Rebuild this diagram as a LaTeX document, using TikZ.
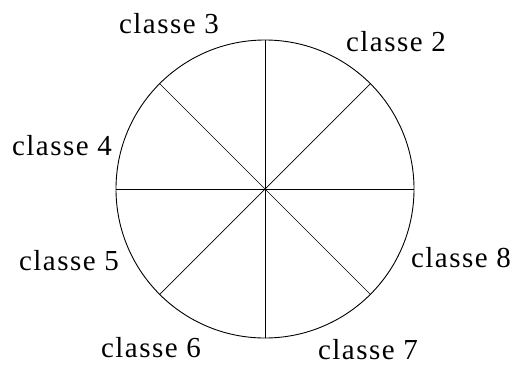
\documentclass[tikz,border=0pt]{standalone}
\usepackage{fontspec}
\setmainfont{Liberation Serif}[LetterSpace=5]
\begin{document}
\begin{tikzpicture}[x=1pt,y=-1pt,
  lbl/.style={inner sep=0pt,font=\fontsize{29}{29}\selectfont},
  rim/.style={line width=0.9pt},
  spoke/.style={line width=0.7pt}]
\useasboundingbox (0,0) rectangle (516,365);
\coordinate (c) at (265,189);
\node[circle,draw,rim,minimum size=298pt,inner sep=0pt] (disk) at (c) {};
\foreach \a in {0,45,...,315}{
  \draw[spoke] (c) -- (disk.\a);
}
\node[lbl] (l3) at (169,24) {classe 3};
\node[lbl] (l2) at (396,42) {classe 2};
\node[lbl] (l4) at (62,146) {classe 4};
\node[lbl] (l5) at (69,261) {classe 5};
\node[lbl] (l8) at (461,258) {classe 8};
\node[lbl] (l6) at (151,348) {classe 6};
\node[lbl] (l7) at (368,350) {classe 7};
\end{tikzpicture}
\end{document}
